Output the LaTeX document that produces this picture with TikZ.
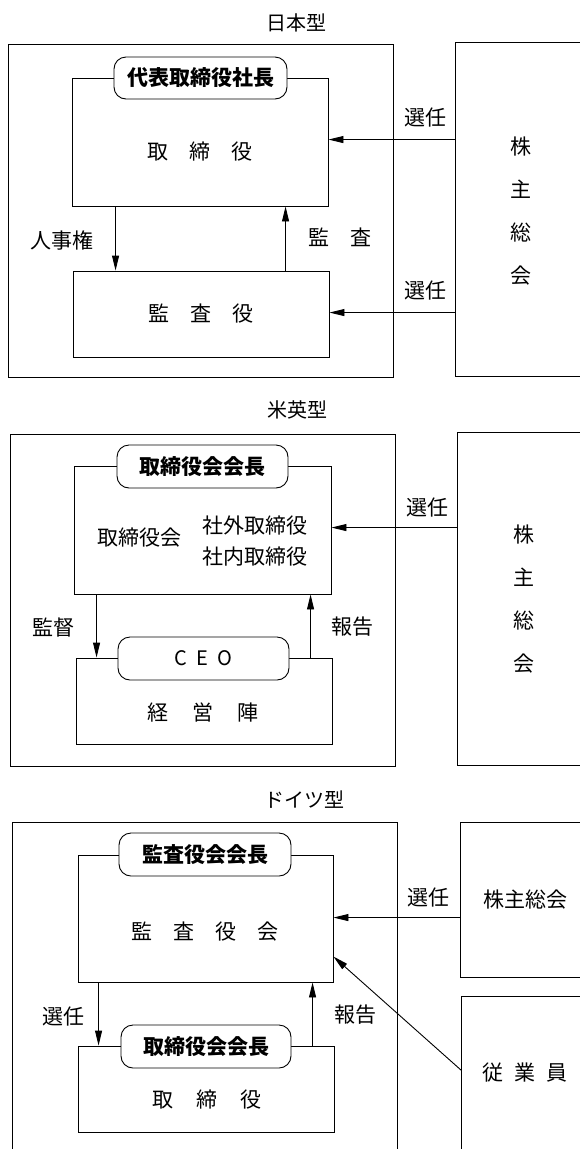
\documentclass[tikz,border=0pt]{standalone}
\usepackage{fontspec}
\setmainfont{Noto Sans CJK JP}
\usetikzlibrary{arrows.meta}
\begin{document}
\begin{tikzpicture}[x=1pt,y=-1pt,
  line width=0.9pt,
  txt/.style={font=\fontsize{21pt}{25pt}\selectfont, inner sep=0pt},
  ttl/.style={font=\fontsize{20pt}{24pt}\selectfont, inner sep=0pt},
  box/.style={draw, rectangle, inner sep=0pt},
  hid/.style={rectangle, inner sep=0pt},
  rbox/.style={draw, rectangle, rounded corners=12pt, fill=white, inner sep=0pt, font=\fontsize{21pt}{25pt}\selectfont\bfseries},
  arr/.style={-{Triangle[length=15pt,width=7pt]}},
  vtxt/.style={font=\fontsize{21pt}{43pt}\selectfont, align=center, inner sep=0pt}
]
\useasboundingbox (0,0) rectangle (580,1149);
\coordinate (rim) at (580,0);

% ---------------- 日本型 ----------------
\node[ttl] (t1) at (296,23) {日本型};
\node[box, minimum width=385pt, minimum height=333pt] (out1) at (200.5,210.5) {};
\node[hid, minimum width=130pt, minimum height=333pt] (sh1) at (521,209.5) {};
\draw (sh1.north west -| rim) -- (sh1.north west) -- (sh1.south west) -- (sh1.south west -| rim);
\node[vtxt] (sh1t) at (521,211) {株\\主\\総\\会};
\node[box, minimum width=256pt, minimum height=128pt] (tor1) at (200,142) {};
\node[txt] (tor1t) at (200,152) {取\hspace{21pt}締\hspace{21pt}役};
\node[rbox, minimum width=173pt, minimum height=42pt] (r1) at (200.5,78) {代表取締役社長};
\node[box, minimum width=256pt, minimum height=86pt, font=\fontsize{21pt}{25pt}\selectfont] (kan1) at (201,314) {監\hspace{21pt}査\hspace{21pt}役};
\draw[arr] ([xshift=44pt]tor1.south west) -- ([xshift=43pt]kan1.north west);
\draw[arr] ([xshift=213pt]kan1.north west) -- ([xshift=214pt]tor1.south west);
\draw[arr] ([yshift=-97pt]sh1.north west) -- ([yshift=-62pt]tor1.north east);
\draw[arr] ([yshift=-270pt]sh1.north west) -- ([yshift=-42pt]kan1.north east);
\node[txt] (l1a) at (425,118) {選任};
\node[txt] (l1b) at (425,291) {選任};
\node[txt] (l1c) at (62,240) {人事権};
\node[txt] (l1d) at (340,237) {監\hspace{21pt}査};

% ---------------- 米英型 ----------------
\node[ttl] (t2) at (297,410) {米英型};
\node[box, minimum width=385pt, minimum height=332pt] (out2) at (202.5,600) {};
\node[hid, minimum width=132pt, minimum height=332pt] (sh2) at (524,599) {};
\draw (sh2.north west -| rim) -- (sh2.north west) -- (sh2.south west) -- (sh2.south west -| rim);
\node[vtxt] (sh2t) at (524,599) {株\\主\\総\\会};
\node[box, minimum width=257pt, minimum height=128pt] (tor2) at (202.5,530) {};
\node[txt] (tor2a) at (139,538) {取締役会};
\node[txt, align=left, font=\fontsize{21pt}{31pt}\selectfont] (tor2b) at (255,541) {社外取締役\\社内取締役};
\node[rbox, minimum width=171pt, minimum height=43pt] (r2) at (202.5,466.5) {取締役会会長};
\node[box, minimum width=256pt, minimum height=86pt] (kei2) at (204,701) {};
\node[txt] (kei2t) at (203,713) {経\hspace{24pt}営\hspace{24pt}陣};
\node[rbox, minimum width=171pt, minimum height=43pt, font=\fontsize{20pt}{24pt}\selectfont] (ceo) at (203.5,658.5) {C\hspace{9pt}E\hspace{9pt}O};
\draw[arr] ([xshift=23pt]tor2.south west) -- ([xshift=21pt]kei2.north west);
\draw[arr] ([xshift=235pt]kei2.north west) -- ([xshift=237pt]tor2.south west);
\draw[arr] ([yshift=-95pt]sh2.north west) -- ([yshift=-62pt]tor2.north east);
\node[txt] (l2a) at (427,508) {選任};
\node[txt] (l2b) at (53,628) {監督};
\node[txt] (l2c) at (352,627) {報告};

% ---------------- ドイツ型 ----------------
\node[ttl] (t3) at (304,800) {ドイツ型};
\node[hid, minimum width=384pt, minimum height=326pt] (out3) at (205,986) {};
\draw (out3.south west) -- (out3.north west) -- (out3.north east) -- (out3.south east);
\node[hid, minimum width=128pt, minimum height=154pt, font=\fontsize{21pt}{25pt}\selectfont] (sha3) at (525,900) {株主総会};
\draw (sha3.north west -| rim) -- (sha3.north west) -- (sha3.south west) -- (sha3.south west -| rim);
\node[hid, minimum width=126pt, minimum height=152pt, font=\fontsize{21pt}{25pt}\selectfont] (ju3) at (525,1073) {従\hspace{11pt}業\hspace{11pt}員};
\draw (ju3.north west -| rim) -- (ju3.north west) -- (ju3.south west);
\node[box, minimum width=255pt, minimum height=127pt] (kan3) at (205.5,918.5) {};
\node[txt] (kan3t) at (205,932) {監\hspace{21pt}査\hspace{21pt}役\hspace{21pt}会};
\node[rbox, minimum width=172pt, minimum height=43pt] (r3a) at (205,854.5) {監査役会会長};
\node[box, minimum width=256pt, minimum height=86pt] (tor3) at (206,1089) {};
\node[txt] (tor3t) at (207,1100) {取\hspace{23pt}締\hspace{23pt}役};
\node[rbox, minimum width=170pt, minimum height=43pt] (r3b) at (206,1046.5) {取締役会会長};
\draw[arr] ([xshift=21pt]kan3.south west) -- ([xshift=21pt]tor3.north west);
\draw[arr] ([xshift=235pt]tor3.north west) -- ([xshift=235pt]kan3.south west);
\draw[arr] ([yshift=-95pt]sha3.north west) -- ([yshift=-63pt]kan3.north east);
\draw[arr] ([yshift=-74pt]ju3.north west) -- ([yshift=-102pt]kan3.north east);
\node[txt] (l3a) at (428,898) {選任};
\node[txt] (l3b) at (63,1017) {選任};
\node[txt] (l3c) at (355,1015) {報告};
\end{tikzpicture}
\end{document}
